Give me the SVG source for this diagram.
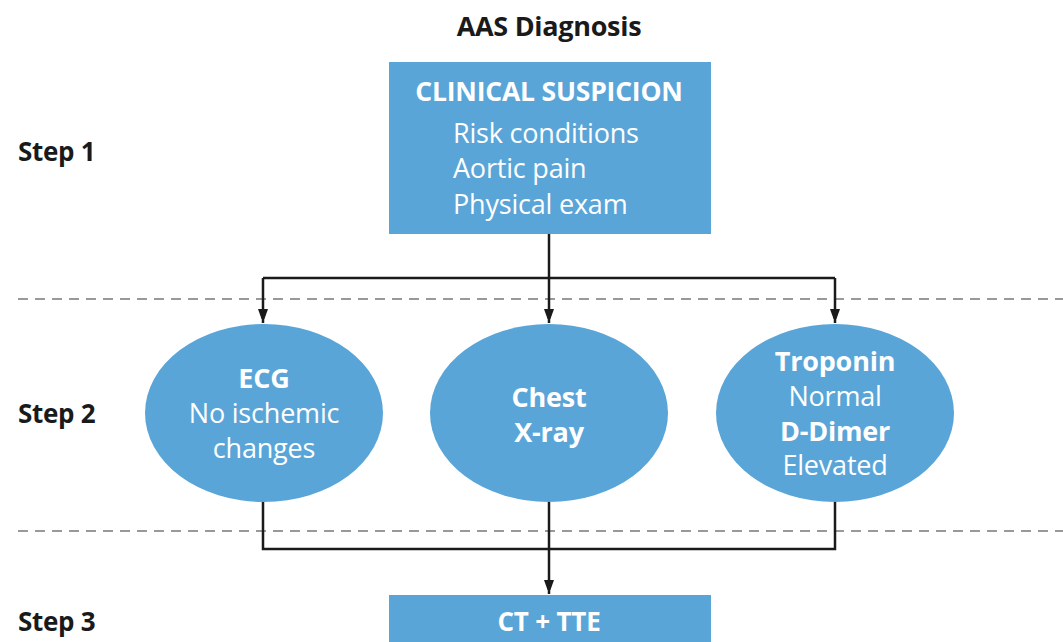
<svg xmlns="http://www.w3.org/2000/svg" width="1063" height="642" viewBox="0 0 1063 642">
<style>
text{font-family:"Open Sans",Lato,"Liberation Sans",sans-serif;text-anchor:middle}
.t{fill:#1a1a1a;font-weight:bold;font-size:27px;letter-spacing:-0.3px}
.step{fill:#1a1a1a;font-weight:bold;font-size:26px;text-anchor:start;letter-spacing:-0.3px}
.n{fill:#5aa5d8}
.w{fill:#fff;font-size:27px;letter-spacing:-0.2px}
.b{font-weight:bold}
.dash{stroke:#999;stroke-width:2;stroke-dasharray:10 7;fill:none}
.c{stroke:#1a1a1a;stroke-width:2.5;fill:none}
</style>
<defs>
<marker id="ah" markerWidth="10" markerHeight="16" refX="14" refY="5" orient="auto" markerUnits="userSpaceOnUse"><path d="M0,0 L14,5 L0,10 z" fill="#1a1a1a"/></marker>
</defs>
<rect width="1063" height="642" fill="#fff"/>
<text class="t" x="549" y="36">AAS Diagnosis</text>
<text class="step" x="18" y="161">Step 1</text>
<text class="step" x="18" y="423">Step 2</text>
<text class="step" x="18" y="631">Step 3</text>
<line class="dash" x1="18" y1="299" x2="1063" y2="299"/>
<line class="dash" x1="18" y1="531" x2="1063" y2="531"/>
<g id="connectors">
<path class="c" d="M549,234 V278"/>
<path class="c" d="M263,278 H835"/>
<path class="c" d="M263,278 V323" marker-end="url(#ah)"/>
<path class="c" d="M549,278 V323" marker-end="url(#ah)"/>
<path class="c" d="M835,278 V323" marker-end="url(#ah)"/>
<path class="c" d="M263,502 V549 H835 V502"/>
<path class="c" d="M549,502 V594" marker-end="url(#ah)"/>
</g>
<g id="clinical">
<rect class="n" x="389" y="62" width="322" height="172"/>
<text class="w b" x="549" y="101" style="font-size:26.5px">CLINICAL SUSPICION</text>
<text class="w" x="453" y="143" style="text-anchor:start">Risk conditions</text>
<text class="w" x="453" y="178" style="text-anchor:start">Aortic pain</text>
<text class="w" x="453" y="214" style="text-anchor:start">Physical exam</text>
</g>
<g id="ecg">
<ellipse class="n" cx="264" cy="413" rx="119" ry="89"/>
<text class="w b" x="264" y="388">ECG</text>
<text class="w" x="264" y="423">No ischemic</text>
<text class="w" x="264" y="458">changes</text>
</g>
<g id="xray">
<ellipse class="n" cx="549" cy="413" rx="119" ry="89"/>
<text class="w b" x="549" y="407">Chest</text>
<text class="w b" x="549" y="442">X-ray</text>
</g>
<g id="troponin">
<ellipse class="n" cx="835" cy="413" rx="119" ry="89"/>
<text class="w b" x="835" y="371">Troponin</text>
<text class="w" x="835" y="406">Normal</text>
<text class="w b" x="835" y="441">D-Dimer</text>
<text class="w" x="835" y="475">Elevated</text>
</g>
<g id="ct">
<rect class="n" x="389" y="595" width="322" height="60"/>
<text class="w b" x="549" y="631" style="font-size:26px">CT + TTE</text>
</g>
</svg>
